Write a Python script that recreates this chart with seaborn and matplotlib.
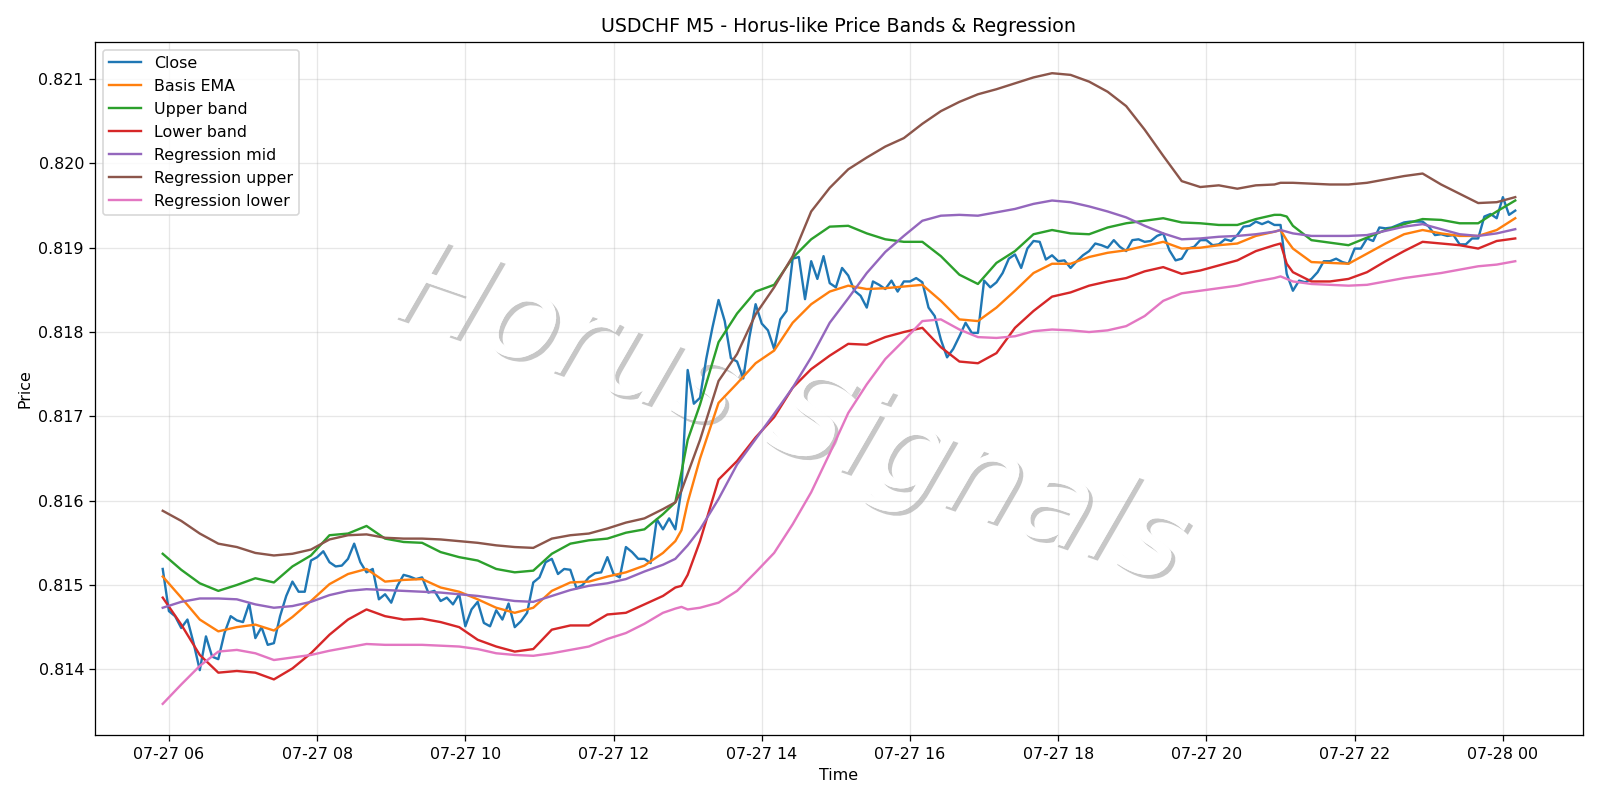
import numpy as np
import pandas as pd
import matplotlib
matplotlib.use("Agg")
import matplotlib.pyplot as plt
import matplotlib.dates as mdates
import matplotlib.patheffects as pe
import seaborn as sns

# ---------------- data ----------------
close_start = "2025-07-27 05:55"
close = [
    0.81519, 0.81469, 0.81463, 0.81449, 0.81459, 0.81431, 0.81399, 0.81439, 0.81415, 0.81412,
    0.81443, 0.81463, 0.81458, 0.81456, 0.81478, 0.81437, 0.81450, 0.81429, 0.81431, 0.81463,
    0.81487, 0.81504, 0.81492, 0.81492, 0.81529, 0.81533, 0.81540, 0.81527, 0.81522, 0.81523,
    0.81531, 0.81549, 0.81527, 0.81515, 0.81519, 0.81483, 0.81489, 0.81479, 0.81499, 0.81512,
    0.81510, 0.81507, 0.81509, 0.81491, 0.81493, 0.81481, 0.81485, 0.81477, 0.81489, 0.81451,
    0.81471, 0.81480, 0.81455, 0.81451, 0.81470, 0.81459, 0.81478, 0.81450, 0.81457, 0.81467,
    0.81503, 0.81509, 0.81527, 0.81531, 0.81513, 0.81519, 0.81518, 0.81496, 0.81500, 0.81509,
    0.81514, 0.81515, 0.81533, 0.81513, 0.81509, 0.81545, 0.81539, 0.81531, 0.81531, 0.81526,
    0.81578, 0.81566, 0.81579, 0.81566, 0.81614, 0.81755, 0.81715, 0.81722, 0.81768, 0.81805,
    0.81838, 0.81813, 0.81769, 0.81765, 0.81745, 0.81794, 0.81833, 0.81810, 0.81802, 0.81780,
    0.81815, 0.81825, 0.81887, 0.81889, 0.81839, 0.81884, 0.81863, 0.81890, 0.81858, 0.81853,
    0.81876, 0.81867, 0.81849, 0.81843, 0.81829, 0.81860, 0.81856, 0.81851, 0.81861, 0.81848,
    0.81860, 0.81860, 0.81864, 0.81859, 0.81829, 0.81819, 0.81791, 0.81770, 0.81780, 0.81795,
    0.81811, 0.81799, 0.81799, 0.81861, 0.81853, 0.81859, 0.81870, 0.81887, 0.81892, 0.81876,
    0.81899, 0.81908, 0.81907, 0.81886, 0.81891, 0.81884, 0.81885, 0.81876, 0.81884, 0.81891,
    0.81896, 0.81905, 0.81903, 0.81900, 0.81909, 0.81901, 0.81896, 0.81909, 0.81910, 0.81907,
    0.81908, 0.81914, 0.81917, 0.81897, 0.81885, 0.81887, 0.81899, 0.81901, 0.81909, 0.81909,
    0.81903, 0.81904, 0.81910, 0.81908, 0.81915, 0.81925, 0.81926, 0.81931, 0.81928, 0.81931,
    0.81927, 0.81927, 0.81869, 0.81849, 0.81861, 0.81859, 0.81863, 0.81871, 0.81884, 0.81884,
    0.81887, 0.81883, 0.81881, 0.81899, 0.81899, 0.81911, 0.81908, 0.81924, 0.81923, 0.81924,
    0.81927, 0.81930, 0.81931, 0.81931, 0.81931, 0.81925, 0.81915, 0.81916, 0.81914, 0.81915,
    0.81904, 0.81904, 0.81911, 0.81911, 0.81937, 0.81940, 0.81935, 0.81960, 0.81939, 0.81944,
]

band_times = [
    "05:55", "06:10", "06:25", "06:40", "06:55", "07:10", "07:25", "07:40", "07:55", "08:10",
    "08:25", "08:40", "08:55", "09:10", "09:25", "09:40", "09:55", "10:10", "10:25", "10:40",
    "10:55", "11:10", "11:25", "11:40", "11:55", "12:10", "12:25", "12:40", "12:50", "12:55",
    "13:00", "13:10", "13:25", "13:40", "13:55", "14:10", "14:25", "14:40", "14:55", "15:10",
    "15:25", "15:40", "15:55", "16:10", "16:25", "16:40", "16:55", "17:10", "17:25", "17:40",
    "17:55", "18:10", "18:25", "18:40", "18:55", "19:10", "19:25", "19:40", "19:55", "20:10",
    "20:25", "20:40", "20:55", "21:00", "21:05", "21:10", "21:25", "21:40", "21:55", "22:10",
    "22:25", "22:40", "22:55", "23:10", "23:25", "23:40", "23:55", "00:10",
]

basis_ema = [
    0.81510, 0.81485, 0.81459, 0.81445, 0.81450, 0.81453, 0.81446, 0.81462, 0.81481, 0.81501,
    0.81513, 0.81519, 0.81504, 0.81506, 0.81507, 0.81497, 0.81492, 0.81483, 0.81473, 0.81467,
    0.81473, 0.81493, 0.81503, 0.81504, 0.81510, 0.81515, 0.81523, 0.81538, 0.81552, 0.81565,
    0.81598, 0.81650, 0.81716, 0.81739, 0.81763, 0.81778, 0.81811, 0.81833, 0.81848, 0.81855,
    0.81851, 0.81852, 0.81854, 0.81856, 0.81837, 0.81815, 0.81813, 0.81829, 0.81849, 0.81870,
    0.81881, 0.81881, 0.81889, 0.81894, 0.81897, 0.81902, 0.81907, 0.81899, 0.81900, 0.81903,
    0.81905, 0.81914, 0.81919, 0.81921, 0.81909, 0.81899, 0.81883, 0.81882, 0.81881, 0.81893,
    0.81905, 0.81916, 0.81921, 0.81917, 0.81914, 0.81914, 0.81921, 0.81935,
]

upper_band = [
    0.81537, 0.81518, 0.81502, 0.81493, 0.81500, 0.81508, 0.81503, 0.81522, 0.81535, 0.81559,
    0.81561, 0.81570, 0.81555, 0.81551, 0.81550, 0.81539, 0.81533, 0.81529, 0.81519, 0.81515,
    0.81517, 0.81537, 0.81549, 0.81553, 0.81555, 0.81562, 0.81566, 0.81584, 0.81598, 0.81634,
    0.81672, 0.81714, 0.81788, 0.81822, 0.81848, 0.81856, 0.81888, 0.81910, 0.81925, 0.81926,
    0.81917, 0.81910, 0.81907, 0.81907, 0.81890, 0.81868, 0.81857, 0.81882, 0.81896, 0.81916,
    0.81921, 0.81917, 0.81916, 0.81924, 0.81929, 0.81932, 0.81935, 0.81930, 0.81929, 0.81927,
    0.81927, 0.81934, 0.81939, 0.81939, 0.81937, 0.81926, 0.81909, 0.81906, 0.81903, 0.81912,
    0.81921, 0.81928, 0.81934, 0.81933, 0.81929, 0.81929, 0.81943, 0.81956,
]

lower_band = [
    0.81485, 0.81453, 0.81417, 0.81396, 0.81398, 0.81396, 0.81388, 0.81401, 0.81419, 0.81441,
    0.81459, 0.81471, 0.81463, 0.81459, 0.81460, 0.81456, 0.81450, 0.81435, 0.81427, 0.81421,
    0.81424, 0.81447, 0.81452, 0.81452, 0.81465, 0.81467, 0.81477, 0.81487, 0.81497, 0.81499,
    0.81512, 0.81552, 0.81625, 0.81647, 0.81675, 0.81699, 0.81734, 0.81756, 0.81772, 0.81786,
    0.81785, 0.81794, 0.81800, 0.81805, 0.81782, 0.81765, 0.81763, 0.81775, 0.81805, 0.81825,
    0.81842, 0.81847, 0.81855, 0.81860, 0.81864, 0.81872, 0.81877, 0.81869, 0.81873, 0.81879,
    0.81885, 0.81896, 0.81903, 0.81905, 0.81881, 0.81871, 0.81860, 0.81860, 0.81863, 0.81871,
    0.81884, 0.81896, 0.81907, 0.81905, 0.81903, 0.81899, 0.81908, 0.81911,
]

regression_mid = [
    0.81473, 0.81480, 0.81484, 0.81484, 0.81483, 0.81477, 0.81473, 0.81475, 0.81480, 0.81488,
    0.81493, 0.81495, 0.81494, 0.81493, 0.81492, 0.81491, 0.81489, 0.81487, 0.81484, 0.81481,
    0.81480, 0.81487, 0.81494, 0.81499, 0.81502, 0.81507, 0.81516, 0.81524, 0.81531, 0.81539,
    0.81547, 0.81566, 0.81602, 0.81643, 0.81673, 0.81703, 0.81734, 0.81770, 0.81811, 0.81840,
    0.81870, 0.81895, 0.81914, 0.81932, 0.81938, 0.81939, 0.81938, 0.81942, 0.81946, 0.81952,
    0.81956, 0.81954, 0.81949, 0.81943, 0.81936, 0.81926, 0.81917, 0.81910, 0.81911, 0.81913,
    0.81914, 0.81916, 0.81919, 0.81921, 0.81919, 0.81917, 0.81914, 0.81914, 0.81914, 0.81915,
    0.81920, 0.81925, 0.81928, 0.81922, 0.81916, 0.81914, 0.81917, 0.81922,
]

regression_upper = [
    0.81588, 0.81576, 0.81561, 0.81549, 0.81545, 0.81538, 0.81535, 0.81537, 0.81542, 0.81554,
    0.81559, 0.81560, 0.81556, 0.81555, 0.81555, 0.81554, 0.81552, 0.81550, 0.81547, 0.81545,
    0.81544, 0.81555, 0.81559, 0.81561, 0.81567, 0.81574, 0.81579, 0.81590, 0.81598, 0.81612,
    0.81632, 0.81672, 0.81742, 0.81774, 0.81821, 0.81853, 0.81890, 0.81943, 0.81971, 0.81993,
    0.82007, 0.82020, 0.82030, 0.82047, 0.82062, 0.82073, 0.82082, 0.82088, 0.82095, 0.82102,
    0.82107, 0.82105, 0.82097, 0.82085, 0.82068, 0.82040, 0.82009, 0.81979, 0.81972, 0.81974,
    0.81970, 0.81974, 0.81975, 0.81977, 0.81977, 0.81977, 0.81976, 0.81975, 0.81975, 0.81977,
    0.81981, 0.81985, 0.81988, 0.81975, 0.81964, 0.81953, 0.81954, 0.81960,
]

regression_lower = [
    0.81359, 0.81382, 0.81404, 0.81421, 0.81423, 0.81419, 0.81411, 0.81414, 0.81417, 0.81422,
    0.81426, 0.81430, 0.81429, 0.81429, 0.81429, 0.81428, 0.81427, 0.81424, 0.81419, 0.81417,
    0.81416, 0.81419, 0.81423, 0.81427, 0.81436, 0.81443, 0.81454, 0.81467, 0.81472, 0.81474,
    0.81471, 0.81473, 0.81479, 0.81493, 0.81515, 0.81538, 0.81572, 0.81610, 0.81656, 0.81704,
    0.81738, 0.81768, 0.81790, 0.81813, 0.81815, 0.81803, 0.81794, 0.81793, 0.81795, 0.81801,
    0.81803, 0.81802, 0.81800, 0.81802, 0.81807, 0.81819, 0.81837, 0.81846, 0.81849, 0.81852,
    0.81855, 0.81860, 0.81864, 0.81866, 0.81863, 0.81860, 0.81857, 0.81856, 0.81855, 0.81856,
    0.81860, 0.81864, 0.81867, 0.81870, 0.81874, 0.81878, 0.81880, 0.81884,
]

title = "USDCHF M5 - Horus-like Price Bands & Regression"
watermark = "Horus Signals"

# ---------------- time axes ----------------
close_time = pd.date_range(close_start, periods=len(close), freq="5min")


def to_stamp(hm):
    h, m = map(int, hm.split(":"))
    day = 28 if h < 5 else 27
    return pd.Timestamp(2025, 7, day, h, m)


band_time = pd.DatetimeIndex([to_stamp(t) for t in band_times])

# ---------------- plot ----------------
DPI = 1600 / 14
fig, ax = plt.subplots(figsize=(14, 7), dpi=DPI)

series = [
    ("Close", close_time, close),
    ("Basis EMA", band_time, basis_ema),
    ("Upper band", band_time, upper_band),
    ("Lower band", band_time, lower_band),
    ("Regression mid", band_time, regression_mid),
    ("Regression upper", band_time, regression_upper),
    ("Regression lower", band_time, regression_lower),
]
for i, (name, t, v) in enumerate(series):
    sns.lineplot(x=t, y=v, ax=ax, label=name, color=f"C{i}",
                 linewidth=1.5, estimator=None, sort=False)

ax.set_title(title)
ax.set_xlabel("Time")
ax.set_ylabel("Price")
ax.grid(True, alpha=0.3)
ax.legend(loc="upper left")

ax.xaxis.set_major_locator(mdates.HourLocator(interval=2))
ax.xaxis.set_major_formatter(mdates.DateFormatter("%m-%d %H"))

ax.text(0.468, 0.458, watermark, transform=ax.transAxes, fontsize=76,
        style="italic", color="white", rotation=-19,
        ha="center", va="center", zorder=0,
        path_effects=[pe.withSimplePatchShadow(offset=(2.5, -2.5),
                                               shadow_rgbFace="#909090",
                                               alpha=0.5),
                      pe.Normal()])

fig.tight_layout()
fig.savefig("out.png", dpi=DPI)
